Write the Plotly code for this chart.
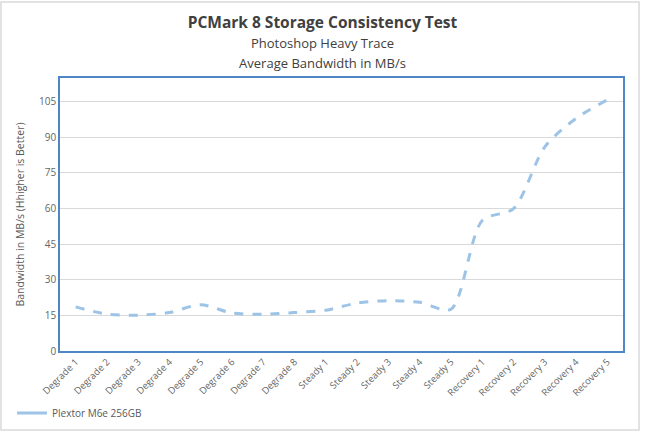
import plotly.graph_objs as go

categories = ['Degrade 1', 'Degrade 2', 'Degrade 3', 'Degrade 4', 'Degrade 5', 'Degrade 6',
              'Degrade 7', 'Degrade 8', 'Steady 1', 'Steady 2', 'Steady 3', 'Steady 4',
              'Steady 5', 'Recovery 1', 'Recovery 2', 'Recovery 3', 'Recovery 4', 'Recovery 5']
bandwidth = [18.6, 15.5, 15.1, 16.2, 19.5, 16.0, 15.5, 16.2, 17.2, 20.2, 21.2, 20.5,
             17.6, 55.0, 60.0, 86.0, 98.0, 105.8]
y_ticks = [0, 15, 30, 45, 60, 75, 90, 105]

fig = go.Figure()
fig.add_trace(go.Scatter(
    x=categories,
    y=bandwidth,
    mode='lines',
    name='Plextor M6e 256GB',
    showlegend=False,
    line=dict(color='#9dc3e6', width=3, dash='dash', shape='spline', smoothing=0.8)
))
# legend key in the original is drawn as a plain solid stroke
fig.add_trace(go.Scatter(
    x=[categories[0]], y=[None],
    mode='lines',
    name='Plextor M6e 256GB',
    line=dict(color='#9dc3e6', width=3)
))

fig.update_layout(
    width=645, height=432,
    margin=dict(l=60, r=22, t=78, b=81, autoexpand=False),
    paper_bgcolor='white',
    plot_bgcolor='white',
    font=dict(family='Open Sans, Lato, sans-serif', color='#595959'),
    title=dict(
        text='<b>PCMark 8 Storage Consistency Test</b><br>'
             '<span style="font-size:13px">Photoshop Heavy Trace</span><br>'
             '<span style="font-size:13px">Average Bandwidth in MB/s</span>',
        x=0.5, xanchor='center', y=0.935, yanchor='top',
        font=dict(size=15.5, color='#404040')
    ),
    xaxis=dict(
        type='category',
        range=[-0.5, 17.5],
        tickangle=-45,
        tickfont=dict(size=9.5, color='#666666'),
        showgrid=False,
        showline=True, linecolor='#4f86c6', linewidth=1.5, mirror=True,
        ticks='',
        automargin=False
    ),
    yaxis=dict(
        range=[0, 115],
        tickvals=y_ticks,
        tickfont=dict(size=10, color='#666666'),
        gridcolor='#d9d9d9', gridwidth=1,
        zeroline=False,
        showline=True, linecolor='#4f86c6', linewidth=1.5, mirror=True,
        title=dict(text='Bandwidth in MB/s (Hhigher is Better)',
                   font=dict(size=10.5, color='#595959'), standoff=12),
        automargin=False
    ),
    showlegend=True,
    legend=dict(
        x=-48 / 563, y=-62 / 273, xanchor='left', yanchor='middle',
        font=dict(size=10, color='#595959'),
        bgcolor='rgba(0,0,0,0)'
    ),
    shapes=[dict(
        type='rect', xref='paper', yref='paper',
        x0=-59 / 563, x1=(639 - 60) / 563,
        y0=-79 / 273, y1=(351 - 2) / 273,
        line=dict(color='#d9d9d9', width=1.5)
    )]
)

# page body has an 8px default margin; drop it so the figure sits at 0,0
fig.write_html("out.html", config={'displayModeBar': False},
               post_script="document.body.style.margin='0';document.body.style.overflow='hidden';")
